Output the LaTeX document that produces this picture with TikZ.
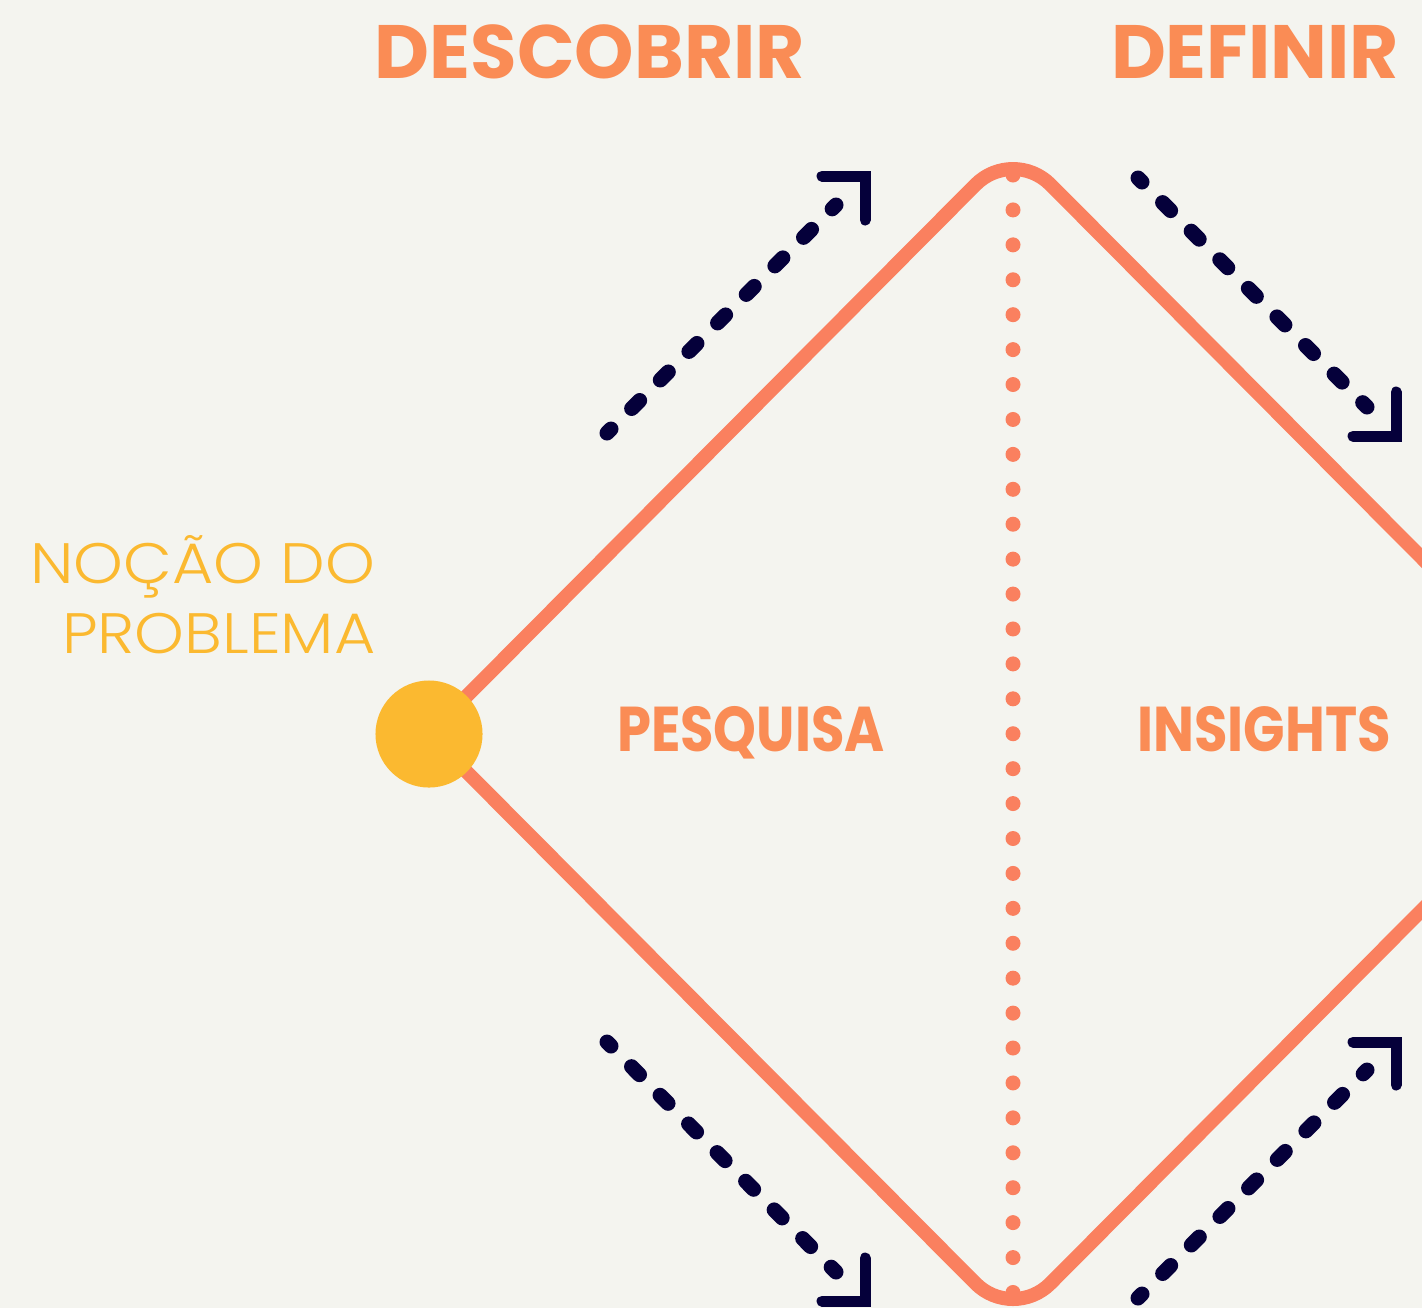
\documentclass[tikz,border=0pt]{standalone}
\usepackage{fontspec}
\setmainfont{Poppins}
\newfontfamily\lightfont{Poppins Light}[FakeStretch=1.11]
\newfontfamily\narrowfont{Poppins}[FakeStretch=0.86]
\usetikzlibrary{positioning}

\definecolor{paper}{RGB}{244,244,239}
\definecolor{coral}{RGB}{250,128,95}
\definecolor{tangerine}{RGB}{250,140,85}
\definecolor{sun}{RGB}{251,185,48}
\definecolor{ink}{RGB}{5,0,58}

\tikzset{
  edge/.style={draw=coral, line width=0.14cm, rounded corners=0.53cm, line join=round},
  dots/.style={draw=coral, line width=0.15cm, line cap=round, dash pattern=on 0pt off 0.349cm},
  flow/.style={draw=ink, line width=0.15cm, line cap=round, dash pattern=on 0.113cm off 0.291cm, dash phase=0.0565cm},
  barb/.style={draw=ink, line width=0.11cm, line cap=round, line join=miter},
  stage/.style={text=tangerine, inner sep=0pt, anchor=base, font=\bfseries\fontsize{21.5}{24}\selectfont},
  phase/.style={text=tangerine, inner sep=0pt, anchor=base, font=\narrowfont\bfseries\fontsize{18}{20}\selectfont},
}

\begin{document}
\begin{tikzpicture}[x=0.01cm, y=-0.01cm]
    \useasboundingbox (0, 0) rectangle (1422, 1308);
    \fill[paper] (0, 0) rectangle (1422, 1308);
    \clip (0, 0) rectangle (1422, 1308);

    \coordinate (L) at (429, 734);
    \coordinate (T) at (1013, 147);
    \coordinate (R) at (1597, 734);
    \coordinate (B) at (1013, 1321);

    \draw[edge] (L) -- (T) -- (R) -- (B) -- cycle;

    \coordinate (D1) at (1013, 175);
    \coordinate (D2) at (1013, 1295);
    \draw[dots] (D1) -- (D2);

    \node[circle, fill=sun, minimum size=1.07cm, inner sep=0pt] (dot) at (L) {};

    \coordinate (A1) at (607, 433);
    \coordinate (A2) at (836, 205);
    \coordinate (A3) at (865, 176);
    \draw[flow] (A1) -- (A2);
    \draw[barb] ([shift={(-43, 0)}]A3) -- (A3) -- ([shift={(0, 44)}]A3);

    \coordinate (B1) at (1138, 178);
    \coordinate (B2) at (1367, 407);
    \coordinate (B3) at (1396, 436);
    \draw[flow] (B1) -- (B2);
    \draw[barb] ([shift={(-43, 0)}]B3) -- (B3) -- ([shift={(0, -44)}]B3);

    \coordinate (C1) at (607, 1042);
    \coordinate (C2) at (836, 1272);
    \coordinate (C3) at (865, 1301);
    \draw[flow] (C1) -- (C2);
    \draw[barb] ([shift={(-43, 0)}]C3) -- (C3) -- ([shift={(0, -43)}]C3);

    \coordinate (E1) at (1138, 1298);
    \coordinate (E2) at (1367, 1070);
    \coordinate (E3) at (1396, 1042);
    \draw[flow] (E1) -- (E2);
    \draw[barb] ([shift={(-43, 0)}]E3) -- (E3) -- ([shift={(0, 43)}]E3);

    \node[stage] (descobrir) at (590, 78) {DESCOBRIR};
    \node[stage] (definir) at (1255, 78) {DEFINIR};

    \node[phase] (pesquisa) at (751, 751) {PESQUISA};
    \node[phase] (insights) at (1264, 751) {INSIGHTS};

    \node[text=sun, inner sep=0pt, anchor=base east, align=right,
          font=\lightfont\fontsize{16.2}{19.7}\selectfont] (nocao) at (376, 653) {NOÇÃO DO\\PROBLEMA};
\end{tikzpicture}
\end{document}
